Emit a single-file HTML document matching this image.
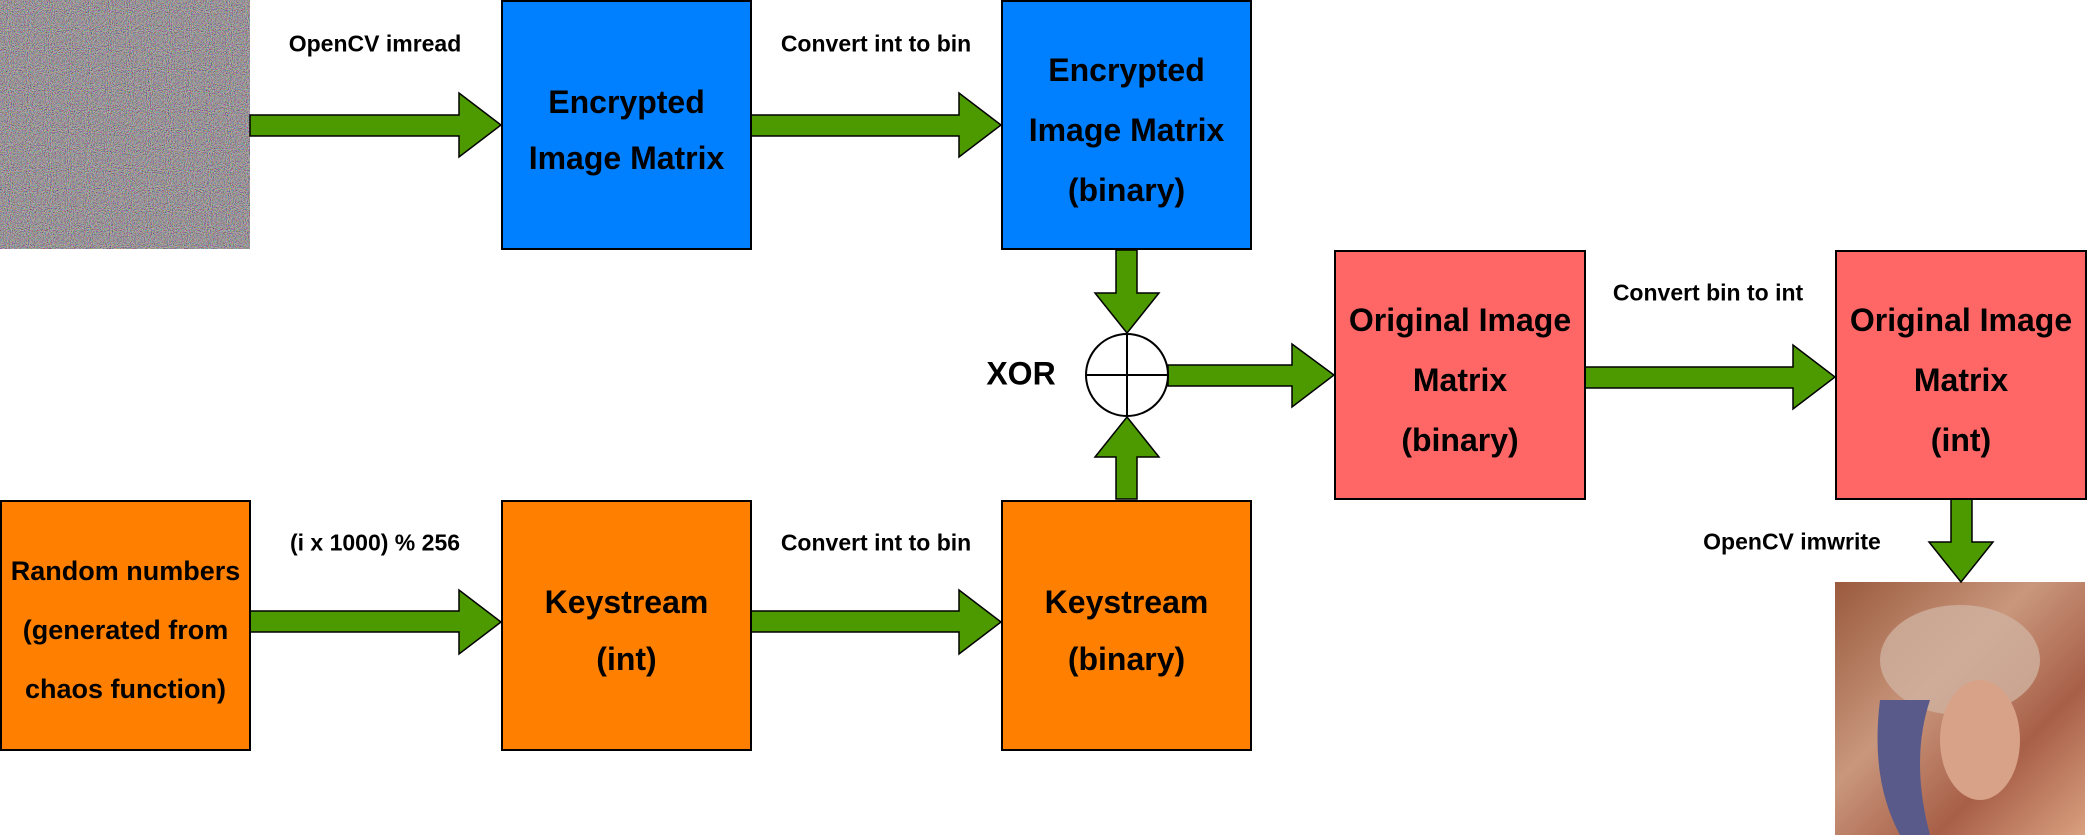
<!DOCTYPE html>
<html><head><meta charset="utf-8"><style>
body{margin:0;width:2088px;height:835px;background:#fff;position:relative;overflow:hidden;font-family:"Liberation Sans",sans-serif;font-weight:bold}
.box{position:absolute;box-sizing:border-box;border:2px solid #000;padding-top:10px;display:flex;flex-direction:column;justify-content:center;align-items:center;text-align:center;font-size:32px;color:#000;white-space:nowrap}
.lbl{position:absolute;font-size:23px;transform:translate(-50%,-50%);white-space:nowrap}
svg{position:absolute;left:0;top:0}
</style></head><body>
<svg width="2088" height="835">
<defs>
<filter id="n" x="0" y="0" width="100%" height="100%"><feTurbulence type="fractalNoise" baseFrequency="0.95" numOctaves="1" seed="3"/><feColorMatrix type="matrix" values="3 0 0 0 -1  0 3 0 0 -1  0 0 3 0 -1  0 0 0 0 1"/></filter>
<linearGradient id="lg" x1="0" y1="0" x2="1" y2="1"><stop offset="0" stop-color="#9a5a3e"/><stop offset="0.4" stop-color="#c9977c"/><stop offset="0.7" stop-color="#a85f48"/><stop offset="1" stop-color="#d9a07f"/></linearGradient>
</defs>
<rect x="0" y="0" width="250" height="249" fill="#867b84"/>
<rect x="0" y="0" width="250" height="249" filter="url(#n)" opacity="0.45"/>
<rect x="1835" y="582" width="250" height="253" fill="url(#lg)"/>
<ellipse cx="1960" cy="660" rx="80" ry="55" fill="#cfb1a0" opacity="0.8"/>
<path d="M1880 700 Q1870 780 1900 835 L1930 835 Q1910 760 1930 700Z" fill="#5a5a8a"/>
<ellipse cx="1980" cy="740" rx="40" ry="60" fill="#d8a288"/>
<g fill="#4d9900" stroke="#000" stroke-width="1.5">
<polygon points="250,115 459,115 459,93 501,125 459,157 459,136 250,136"/>
<polygon points="751,115 959,115 959,93 1001,125 959,157 959,136 751,136"/>
<polygon points="250,611 459,611 459,590 501,622 459,654 459,632 250,632"/>
<polygon points="751,611 959,611 959,590 1001,622 959,654 959,632 751,632"/>
<polygon points="1116,250 1137,250 1137,293 1159,293 1127,333 1095,293 1116,293"/>
<polygon points="1116,499 1137,499 1137,457 1159,457 1127,417 1095,457 1116,457"/>
<polygon points="1168,365 1292,365 1292,344 1334,375 1292,407 1292,386 1168,386"/>
<polygon points="1585,367 1793,367 1793,345 1835,377 1793,409 1793,388 1585,388"/>
<polygon points="1951,499 1972,499 1972,542 1993,542 1961,582 1929,542 1951,542"/>
</g>
<ellipse cx="1127" cy="375" rx="41" ry="41" fill="#fff" stroke="#000" stroke-width="2"/>
<line x1="1086" y1="375" x2="1168" y2="375" stroke="#000" stroke-width="2"/>
<line x1="1127" y1="334" x2="1127" y2="416" stroke="#000" stroke-width="2"/>
</svg>
<div class="box" style="left:501px;top:0;width:251px;height:250px;background:#007fff;line-height:56px">Encrypted<br>Image Matrix</div>
<div class="box" style="left:1001px;top:0;width:251px;height:250px;background:#007fff;line-height:60px">Encrypted<br>Image Matrix<br>(binary)</div>
<div class="box" style="left:1334px;top:250px;width:252px;height:250px;background:#ff6666;line-height:60px">Original Image<br>Matrix<br>(binary)</div>
<div class="box" style="left:1835px;top:250px;width:252px;height:250px;background:#ff6666;line-height:60px">Original Image<br>Matrix<br>(int)</div>
<div class="box" style="left:0;top:500px;width:251px;height:251px;background:#ff8000;font-size:27px;line-height:59px">Random numbers<br>(generated from<br>chaos function)</div>
<div class="box" style="left:501px;top:500px;width:251px;height:251px;background:#ff8000;line-height:57px">Keystream<br>(int)</div>
<div class="box" style="left:1001px;top:500px;width:251px;height:251px;background:#ff8000;line-height:57px">Keystream<br>(binary)</div>
<div class="lbl" style="left:375px;top:44px">OpenCV imread</div>
<div class="lbl" style="left:876px;top:44px">Convert int to bin</div>
<div class="lbl" style="left:375px;top:543px">(i x 1000) % 256</div>
<div class="lbl" style="left:876px;top:543px">Convert int to bin</div>
<div class="lbl" style="left:1708px;top:293px">Convert bin to int</div>
<div class="lbl" style="left:1792px;top:542px">OpenCV imwrite</div>
<div class="lbl" style="left:1021px;top:374px;font-size:32px">XOR</div>
</body></html>
